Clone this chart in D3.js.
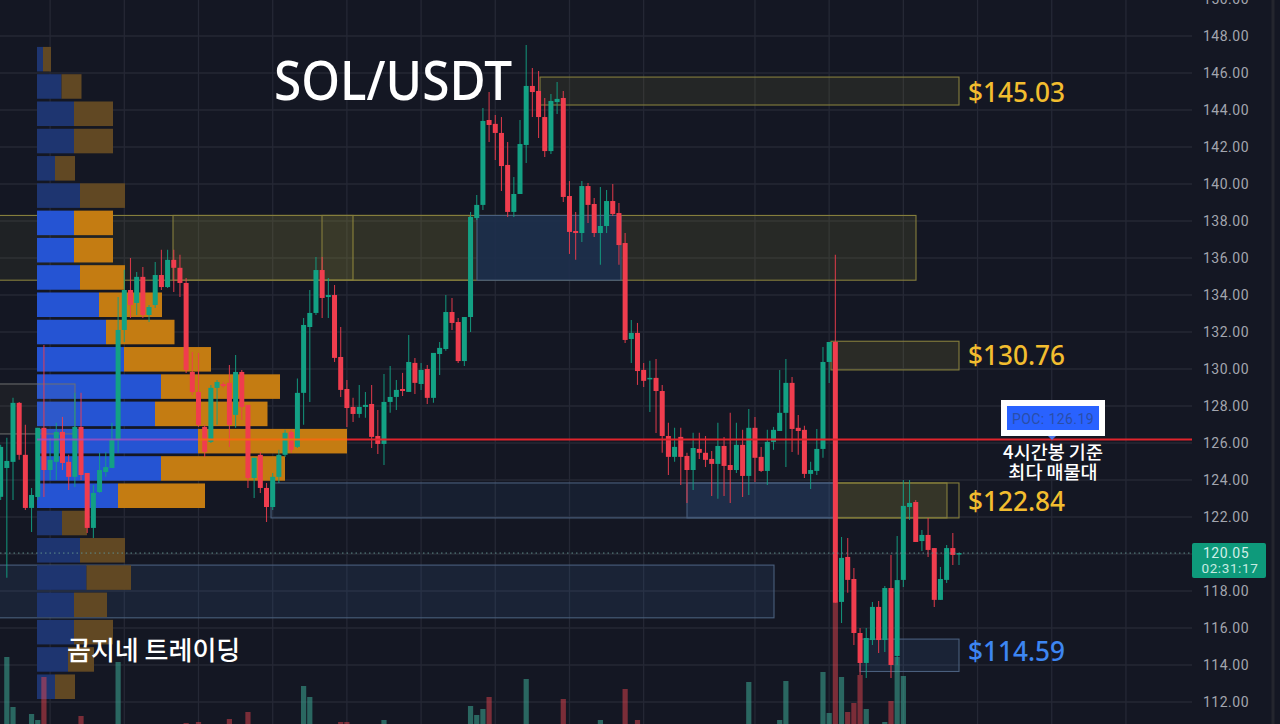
<!DOCTYPE html>
<html><head><meta charset="utf-8">
<style>html,body{margin:0;padding:0;background:#141723;overflow:hidden}svg{display:block}</style>
<script src="https://cdn.jsdelivr.net/npm/d3@7/dist/d3.min.js"></script></head>
<body><svg id="c" width="1280" height="724"></svg>
<script>
const priceTicks=[150,148,146,144,142,140,138,136,134,132,130,128,126,124,122,120,118,116,114,112];
const opens=[123.09,124.65,124.98,128.17,125.36,122.49,123.08,126.82,124.54,124.98,
126.60,124.98,124.17,126.87,124.38,121.41,123.35,124.43,124.65,126.17,
132.11,134.27,133.57,134.98,132.92,133.46,135.08,134.43,135.90,135.47,
134.65,129.84,128.76,126.87,126.06,128.98,129.19,129.25,127.52,129.84,
128.06,124.11,125.36,123.57,122.54,124.17,125.36,126.60,125.79,128.71,
132.27,133.03,135.35,133.89,134.00,130.65,128.92,127.95,127.57,127.95,
128.11,126.38,125.95,128.22,128.49,128.92,128.76,130.33,129.19,130.00,
128.44,130.81,131.08,133.08,132.54,130.43,132.81,138.16,138.87,143.46,
143.25,142.76,141.03,138.49,139.46,142.11,145.30,145.03,143.62,141.78,
144.43,144.65,139.35,137.46,137.35,139.89,138.92,137.35,137.73,139.08,
138.43,136.81,131.62,131.95,129.95,129.46,129.52,128.81,126.38,125.25,
126.33,125.30,124.54,125.68,125.47,125.14,124.87,125.84,124.81,124.54,
125.90,124.22,126.82,125.25,124.49,126.06,126.65,127.63,129.25,126.82,
126.71,124.33,124.49,125.68,130.38,131.46,117.41,119.84,118.65,115.73,
114.11,115.35,117.14,115.35,118.16,114.49,118.60,122.54,122.81,120.70,
121.03,120.32,117.52,118.60,120.32,120.00];
const closes=[125.79,125.03,128.17,125.36,122.49,123.19,126.82,124.54,125.09,126.60,
124.92,124.17,126.87,124.27,121.41,123.30,124.54,124.70,126.17,132.11,
134.27,133.46,134.98,132.92,133.35,135.08,134.43,135.90,135.47,134.65,
129.95,128.76,126.98,125.52,128.98,129.30,129.08,126.98,129.84,127.95,
124.11,125.20,123.57,122.54,124.17,125.36,126.55,125.63,128.71,132.38,
133.03,135.35,133.84,134.00,130.60,128.87,127.89,127.57,127.95,128.06,
126.33,125.95,128.22,128.49,128.87,128.81,130.38,129.25,129.95,128.44,
130.87,131.14,133.08,132.49,130.43,132.81,138.22,138.87,143.41,143.19,
142.76,140.97,138.49,139.46,142.16,145.30,144.97,143.62,141.78,144.49,
144.60,139.30,137.41,137.35,139.89,138.87,137.35,137.73,139.08,138.38,
136.70,131.57,131.95,129.89,129.36,129.52,128.81,126.38,125.25,125.79,
125.25,124.54,125.73,125.47,125.09,124.87,125.84,124.76,124.54,125.90,
124.22,126.82,125.20,124.49,126.06,126.71,127.63,129.25,126.76,126.65,
124.33,124.54,125.68,130.38,131.46,117.36,119.79,118.60,115.73,114.11,
115.46,117.14,115.35,118.16,114.00,118.59,122.60,122.76,120.65,121.03,
120.22,117.52,118.65,120.32,119.95,120.05];
const highs=[125.90,126.28,128.44,128.22,126.98,123.57,126.82,131.30,126.28,127.09,
127.41,125.36,128.71,128.71,124.38,123.73,125.47,125.52,127.09,133.89,
135.36,136.00,135.25,135.52,133.46,135.79,136.44,136.44,136.44,136.17,
134.92,130.92,130.87,126.98,129.14,129.41,129.30,130.22,130.76,129.95,
128.06,125.20,125.52,123.84,124.38,125.63,126.71,126.71,129.49,132.76,
134.27,136.06,136.06,134.92,134.54,132.27,129.41,128.44,129.14,128.76,
129.14,127.79,129.73,130.16,129.41,129.79,131.84,130.60,130.33,130.22,
130.87,131.46,134.00,133.84,132.76,132.81,138.49,139.41,144.11,144.97,
143.73,143.62,142.27,140.38,143.46,147.51,146.27,146.11,144.65,144.87,
145.52,145.03,140.16,138.49,140.16,140.05,139.24,139.84,139.68,140.00,
138.97,137.35,132.65,132.49,130.33,130.44,130.54,129.14,127.09,126.82,
126.82,125.47,126.55,126.55,126.38,125.57,127.09,126.33,127.63,127.09,
126.71,127.84,127.41,125.79,126.71,126.87,129.95,130.54,129.57,127.52,
126.93,124.98,126.76,131.19,131.46,136.17,120.92,120.87,119.25,116.00,
116.00,117.41,117.46,118.27,119.95,120.97,124.00,124.00,122.92,121.30,
121.95,120.32,119.30,120.49,121.14,120.05];
const lows=[122.92,118.71,122.92,125.09,122.38,121.19,122.92,123.08,124.00,124.00,
124.54,123.46,123.62,124.00,121.14,120.87,123.30,124.17,124.65,125.47,
131.46,132.76,132.92,132.76,132.54,133.30,134.27,134.38,134.16,133.89,
129.79,128.60,126.87,125.25,126.00,126.98,128.98,125.79,126.82,127.25,
123.57,123.03,123.30,121.73,122.38,123.84,125.25,125.47,125.73,126.98,
128.22,132.92,132.76,132.76,130.38,128.49,126.87,127.14,127.36,127.36,
125.73,125.41,124.81,127.63,127.79,128.54,128.76,128.65,128.87,128.11,
128.17,129.68,130.98,132.11,130.33,130.16,132.00,138.06,138.60,142.27,
141.30,139.62,138.22,138.22,139.46,141.14,143.62,142.49,141.46,141.62,
143.78,139.03,136.22,135.90,136.87,137.89,137.14,135.63,137.35,138.27,
135.63,131.41,130.33,129.14,129.03,127.68,126.54,125.47,124.27,124.98,
123.73,122.76,123.46,125.14,124.70,123.14,122.98,123.14,122.76,124.38,
123.08,123.19,123.89,124.43,123.73,125.63,126.65,124.70,125.52,125.36,
124.11,123.51,124.27,125.20,129.25,117.36,116.27,117.90,115.08,113.46,
113.30,115.08,114.65,114.70,113.30,114.00,118.22,121.84,120.65,120.16,
119.84,117.14,117.52,118.43,119.41,119.41];
const volumes=[0,67,17,0,0,10,4,47,0,0,0,0,0,8,0,0,0,0,0,62,
0,0,0,0,0,0,0,0,0,0,1,0,2,0,0,0,0,5,0,0,
12,0,0,0,0,0,0,0,0,38,27,0,0,0,0,2,2,0,0,0,
0,0,4,0,0,0,0,0,0,0,0,0,0,0,0,0,18,9,15,27,
0,0,0,0,0,45,0,0,0,0,0,25,0,0,0,0,0,4,0,0,
0,35,0,4,0,0,0,0,0,0,0,0,0,0,0,0,0,0,0,0,
0,42,0,0,0,0,4,43,0,0,0,0,0,52,11,121,47,12,21,49,
15,0,0,2,23,67,48,0,0,0,0,0,0,0,0,0];
const profileBuy=[6,24.5,37,37,18,43,37,37,43,62,69,87,124,118,161,124,81,25,43,49.5,37,37,31,18];
const profileTotal=[14,44.5,76,76,38,88,76,76,88,125,137.5,174,243,230.5,310,248,168,50,88,94,70,76,57,38];
const profileActive=[0,0,0,0,0,0,1,1,1,1,1,1,1,1,1,1,1,0,0,0,0,0,0,0];
const gridBars=[8,20,32,44,56,68,80,92,104,122,134,146,158,170,182];
const zones=[
 {x0:-4,x1:353,hi:138.30,lo:134.80,k:"y",a:.08},
 {x0:173,x1:916,hi:138.30,lo:134.80,k:"y",a:.13},
 {x0:322,x1:470,hi:138.30,lo:134.80,k:"y",a:.07},
 {x0:540,x1:959,hi:145.78,lo:144.27,k:"y",a:.11},
 {x0:831,x1:959,hi:131.50,lo:129.95,k:"y",a:.15},
 {x0:477,x1:621,hi:138.30,lo:134.80,k:"B",a:.9},
 {x0:271,x1:835,hi:123.84,lo:121.95,k:"b",a:.1},
 {x0:687,x1:835,hi:123.84,lo:121.95,k:"b",a:.2},
 {x0:835,x1:959,hi:123.84,lo:121.95,k:"y",a:.03},
 {x0:837,x1:947,hi:123.84,lo:121.95,k:"y",a:.2},
 {x0:-4,x1:774,hi:119.40,lo:116.55,k:"b",a:.15},
 {x0:860,x1:959,hi:115.40,lo:113.65,k:"b",a:.15}];
const zoneLabels=[{t:"$145.03",p:145.00,c:"#f2bd2f"},{t:"$130.76",p:130.76,c:"#f2bd2f"},{t:"$122.84",p:122.84,c:"#f2bd2f"},{t:"$114.59",p:114.75,c:"#3d86f2"}];
const lastPrice=120.05, pocPrice=126.19;

const svg=d3.select("#c");
const y=d3.scaleLinear().domain([148,112]).range([36,702]);
const x=d3.scaleLinear().domain([0,155]).range([0.64,959]);
const yv=d3.scaleLinear().domain([0,130]).range([724,594]);
const xp=d3.scaleLinear().domain([0,310]).range([37,347]);
const band=d3.scaleBand().domain(d3.range(24)).range([y(147.41),y(147.41)+24*27.17]).paddingInner(.1);
const up=i=>closes[i]>=opens[i];
const idx=d3.range(opens.length);

svg.append("rect").attr("width",1280).attr("height",724).attr("fill","#141723");
const G="#252835";
svg.append("g").selectAll("line").data(priceTicks).join("line").attr("x1",0).attr("x2",1192).attr("y1",d=>y(d)).attr("y2",d=>y(d)).attr("stroke",G).attr("stroke-width",1.3);
svg.append("g").selectAll("line").data(gridBars).join("line").attr("x1",d=>x(d)).attr("x2",d=>x(d)).attr("y1",0).attr("y2",724).attr("stroke",G).attr("stroke-width",1.3);
svg.append("line").attr("x1",1273).attr("x2",1273).attr("y1",0).attr("y2",724).attr("stroke","#24262e").attr("stroke-width",3);

// zones
const zoneFill=d=>d.k=="y"?`rgba(170,160,60,${d.a})`:d.k=="B"?`rgba(28,46,76,${d.a})`:`rgba(60,105,170,${d.a})`;
svg.append("g").selectAll("rect").data(zones).join("rect")
 .attr("x",d=>d.x0).attr("width",d=>d.x1-d.x0).attr("y",d=>y(d.hi)).attr("height",d=>y(d.lo)-y(d.hi))
 .attr("fill",zoneFill)
 .attr("stroke",d=>d.k=="y"?"#857e3c":"#4a5f7d").attr("stroke-width",1.1);

// volume profile
const rows=d3.range(24);
const pf=svg.append("g");
pf.selectAll("rect.b").data(rows).join("rect").attr("class","b").attr("x",xp(0)).attr("width",i=>xp(profileBuy[i])-xp(0)).attr("y",i=>band(i)).attr("height",band.bandwidth())
 .attr("fill",i=>profileActive[i]?"#2554d3":"#1e3570");
pf.selectAll("rect.o").data(rows).join("rect").attr("class","o").attr("x",i=>xp(profileBuy[i])).attr("width",i=>xp(profileTotal[i])-xp(profileBuy[i])).attr("y",i=>band(i)).attr("height",band.bandwidth())
 .attr("fill",i=>profileActive[i]?"#c47c12":"#614823");

// faded box over the profile
svg.append("rect").attr("x",-4).attr("width",79).attr("y",y(129.19)).attr("height",y(126.49)-y(129.19))
 .attr("fill","rgba(150,140,90,.07)").attr("stroke","#6f7070").attr("stroke-width",1);

// volume bars
svg.append("g").selectAll("rect").data(idx.filter(i=>volumes[i]>0)).join("rect")
 .attr("x",i=>x(i)-2.6).attr("width",5.2).attr("y",i=>yv(volumes[i])).attr("height",i=>724-yv(volumes[i]))
 .attr("fill",i=>up(i)?"rgb(60,170,150)":"rgb(240,70,80)").attr("opacity",i=>up(i)?.55:.47);

// candles
const cg=svg.append("g");
cg.selectAll("line").data(idx).join("line").attr("x1",i=>x(i)).attr("x2",i=>x(i)).attr("y1",i=>y(highs[i])).attr("y2",i=>y(lows[i]))
 .attr("stroke",i=>up(i)?"#13a184":"#f03d4e").attr("stroke-width",1.1).attr("opacity",.85);
cg.selectAll("rect").data(idx).join("rect").attr("x",i=>x(i)-2.5).attr("width",5)
 .attr("y",i=>y(Math.max(opens[i],closes[i]))).attr("height",i=>Math.max(Math.abs(y(opens[i])-y(closes[i])),1.5))
 .attr("fill",i=>up(i)?"#13a184":"#f03d4e");

// last price dotted
svg.append("line").attr("x1",0).attr("x2",1192).attr("y1",y(lastPrice)).attr("y2",y(lastPrice)).attr("stroke","#5f8c8a").attr("stroke-width",1).attr("stroke-dasharray","1.5 3");
// POC line
svg.append("line").attr("x1",37).attr("x2",198).attr("y1",y(pocPrice)).attr("y2",y(pocPrice)).attr("stroke","#a84fc0").attr("stroke-width",2).attr("opacity",.75);
svg.append("line").attr("x1",198).attr("x2",347).attr("y1",y(pocPrice)).attr("y2",y(pocPrice)).attr("stroke","#f26a10").attr("stroke-width",2);
svg.append("line").attr("x1",347).attr("x2",1192).attr("y1",y(pocPrice)).attr("y2",y(pocPrice)).attr("stroke","#e0242c").attr("stroke-width",2);

// price axis
const ax=d3.axisRight(y).tickValues(priceTicks).tickSize(0).tickPadding(0).tickFormat(d3.format(".2f"));
const ag=svg.append("g").attr("transform","translate(1203,0.5)").call(ax);
ag.select(".domain").remove();
ag.selectAll("text").attr("fill","#a3a6af").style("font-family","Roboto").style("font-size","14px").style("letter-spacing",".5px");

// last price tag
svg.append("rect").attr("x",1192).attr("y",543).attr("width",74).attr("height",35).attr("rx",2).attr("fill","#0e9a7b");
svg.append("text").attr("x",1203).attr("y",557.5).text(d3.format(".2f")(lastPrice)).attr("fill","#d2efe8").style("font-family","Roboto").style("font-size","14px").style("letter-spacing",".5px");
svg.append("text").attr("x",1201.5).attr("y",573).text("02:31:17").attr("fill","#c6ebe2").style("font-family","Roboto").style("font-size","13.5px").style("letter-spacing",".6px");

// zone labels
svg.append("g").selectAll("text").data(zoneLabels).join("text").attr("x",968).attr("y",d=>y(d.p)+10).text(d=>d.t).attr("fill",d=>d.c)
 .attr("textLength",97).attr("lengthAdjust","spacingAndGlyphs")
 .style("font-family","'Noto Sans'").style("font-size","27px").style("font-weight",500);

// title and notes
svg.append("text").attr("x",274).attr("y",100).text("SOL/USDT").attr("fill","#fff").attr("textLength",238).attr("lengthAdjust","spacingAndGlyphs").style("font-family","'Noto Sans'").style("font-size","54px").style("font-weight",500);
svg.append("text").attr("x",67).attr("y",660).text("곰지네 트레이딩").attr("fill","#fff").style("font-family","'Noto Sans CJK KR'").style("font-size","26px").style("font-weight",500);
svg.append("text").attr("x",1053).attr("y",459).attr("text-anchor","middle").text("4시간봉 기준").attr("fill","#fff").style("font-family","'Noto Sans CJK KR'").style("font-size","18.5px").style("font-weight",500);
svg.append("text").attr("x",1053).attr("y",479).attr("text-anchor","middle").text("최다 매물대").attr("fill","#fff").style("font-family","'Noto Sans CJK KR'").style("font-size","18.5px").style("font-weight",500);

// POC tag
svg.append("rect").attr("x",1001).attr("y",400).attr("width",104).attr("height",36).attr("fill","#fff");
svg.append("rect").attr("x",1007).attr("y",406).attr("width",92).attr("height",24).attr("fill","#2962ff");
svg.append("path").attr("d","M1048 436h8l-4 4z").attr("fill","#4a76e8");
svg.append("text").attr("x",1053).attr("y",424).attr("text-anchor","middle").text("POC: "+pocPrice.toFixed(2)).attr("fill","#2a4ea8").style("font-family","Roboto").style("font-size","14px").style("letter-spacing",".4px");
</script></body></html>
